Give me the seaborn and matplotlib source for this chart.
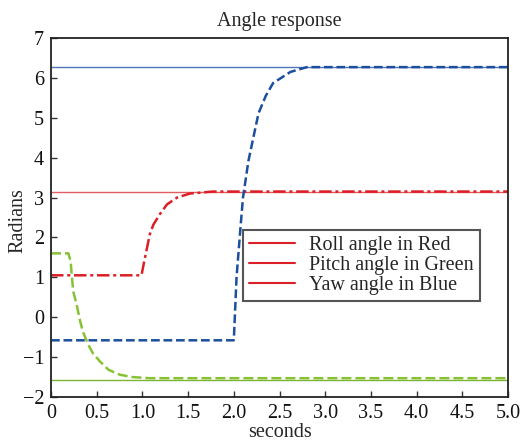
import matplotlib
matplotlib.use("Agg")
import matplotlib.pyplot as plt
import numpy as np
import pandas as pd
import seaborn as sns
from matplotlib.lines import Line2D

# reference (target) angles
TARGETS = [2 * np.pi, np.pi, -np.pi / 2]
TARGET_COLORS = ["#4f74b8", "#e25c63", "#7cb535"]

# pitch response (green)
green_t = [0, 0.19, 0.215, 0.226, 0.244, 0.28, 0.32, 0.35, 0.41, 0.46, 0.54, 0.63, 0.75, 0.88, 1.08, 5.0]
green_v = [1.6, 1.6, 1.4, 1.07, 0.64, 0.32, -0.11, -0.37, -0.7, -0.91, -1.12, -1.32, -1.44, -1.5, -1.53, -1.53]

# roll response (red)
red_t = [0, 0.99, 1.02, 1.05, 1.08, 1.12, 1.19, 1.27, 1.38, 1.52, 1.77, 5.0]
red_v = [1.05, 1.05, 1.4, 1.73, 2.07, 2.32, 2.58, 2.83, 3.0, 3.1, 3.15, 3.15]

# yaw response (blue)
blue_t = [0, 2.0, 2.03, 2.07, 2.1, 2.16, 2.27, 2.35, 2.43, 2.62, 2.8, 5.0]
blue_v = [-0.58, -0.58, 1.0, 2.16, 2.99, 3.92, 5.11, 5.55, 5.87, 6.15, 6.27, 6.27]

LEGEND_LABELS = ["Roll angle in Red", "Pitch angle in Green", "Yaw angle in Blue"]
FS = 14.5

sns.set_style("ticks")
plt.rcParams["font.family"] = ["Liberation Serif", "DejaVu Serif"]

fig = plt.figure(figsize=(5.22, 4.45), dpi=100)
ax = fig.add_axes([0.0977, 0.108, 0.8755, 0.8066])

for val, col in zip(TARGETS, TARGET_COLORS):
    ax.axhline(val, color=col, lw=1.0, zorder=1)

sns.lineplot(x=red_t, y=red_v, ax=ax, color="#dc1f26", lw=1.8, sort=False,
             estimator=None, linestyle=(0, (5, 1.5, 1.2, 1.5)))
sns.lineplot(x=green_t, y=green_v, ax=ax, color="#86c234", lw=1.8, sort=False,
             estimator=None, linestyle=(0, (4, 1.6)))
sns.lineplot(x=blue_t, y=blue_v, ax=ax, color="#1d4f9f", lw=1.8, sort=False,
             estimator=None, linestyle=(0, (3.5, 1.5)))

ax.set_xlim(0, 5)
ax.set_ylim(-2, 7)
ax.set_xticks(np.arange(0, 5.01, 0.5))
ax.set_xticklabels(["0", "0.5", "1.0", "1.5", "2.0", "2.5", "3.0", "3.5", "4.0", "4.5", "5.0"])
ax.set_yticks(range(-2, 8))
ax.tick_params(direction="in", length=4, width=1, labelsize=FS, top=False, right=False,
               colors="#333333", labelcolor="#111111", pad=5)
for sp in ax.spines.values():
    sp.set_color("#222222")
    sp.set_linewidth(1.3)

ax.set_title("Angle response", fontsize=FS, pad=9)
ax.set_xlabel("seconds", fontsize=FS, labelpad=0)
ax.set_ylabel("Radians", fontsize=FS)
ax.yaxis.set_label_coords(-0.052, 0.49)

handles = [Line2D([], [], color="#dc1f26", lw=1.5) for _ in LEGEND_LABELS]
leg = ax.legend(handles, LEGEND_LABELS, loc="upper left", bbox_to_anchor=(0.42, 0.465),
                borderaxespad=0, fontsize=FS, fancybox=False, framealpha=1,
                edgecolor="#555555", handlelength=2.3, labelspacing=0.05,
                borderpad=0.3, handletextpad=0.7)
leg.get_frame().set_linewidth(1.5)

fig.savefig("out.png", dpi=100)
